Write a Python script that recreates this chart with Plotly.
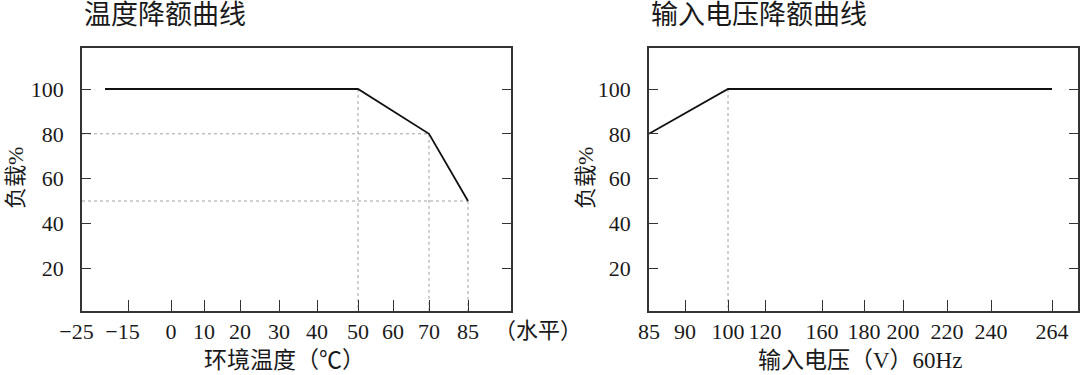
import numpy as np
import plotly.graph_objects as go

# ---------------- data ----------------
temp_c = [-20, 50, 70, 85]
temp_load = [100, 100, 80, 50]
temp_guides = [50, 70, 85]          # breakpoints with dotted guides

volt_v = [85, 100, 264]
volt_load = [80, 100, 100]
volt_guides = [100]

temp_ticks = [-25, -15, 0, 10, 20, 30, 40, 50, 60, 70, 85]
temp_tick_text = ["−25\u2002", "−15\u2002", "0", "10", "20", "30", "40", "50", "60", "70", "85"]
volt_ticks = [85, 90, 100, 120, 160, 180, 200, 220, 240, 264]
volt_tick_text = [str(v) for v in volt_ticks]
load_ticks = [20, 40, 60, 80, 100]

left_title = "温度降额曲线"
right_title = "输入电压降额曲线"
left_xtitle = "环境温度（℃）"
right_xtitle = "输入电压（V）60Hz"
ytitle = "负载%"
extra_label = "（水平）"

# ---------------- axis layout (non-linear printed scales) ----------------
temp_slot = [82, 128, 171, 204, 240, 279, 317, 358, 393, 429, 468]
temp_range = [82, 511]
volt_slot = [649, 685, 728, 765, 822, 864, 903, 947, 991, 1052]
volt_range = [649, 1078]
y_range = [0.9, 118.3]

W, H = 1080, 375
FONT = "Liberation Serif, 'Noto Sans CJK SC', serif"
TXT = "#1a1a1a"


def tmap(v):
    return np.interp(v, temp_ticks, temp_slot)


def vmap(v):
    return np.interp(v, volt_ticks, volt_slot)


fig = go.Figure()
guide = dict(color="#a0a0a0", width=1, dash="dot")

# left guides
for g in temp_guides:
    yv = float(np.interp(g, temp_c, temp_load))
    fig.add_trace(go.Scatter(x=[tmap(g), tmap(g)], y=[yv, y_range[0]], mode="lines",
                             line=guide, xaxis="x", yaxis="y", showlegend=False, hoverinfo="skip"))
    if yv < max(temp_load):
        fig.add_trace(go.Scatter(x=[temp_range[0], tmap(g)], y=[yv, yv], mode="lines",
                                 line=guide, xaxis="x", yaxis="y", showlegend=False, hoverinfo="skip"))
# right guides
for g in volt_guides:
    yv = float(np.interp(g, volt_v, volt_load))
    fig.add_trace(go.Scatter(x=[vmap(g), vmap(g)], y=[yv, y_range[0]], mode="lines",
                             line=guide, xaxis="x2", yaxis="y2", showlegend=False, hoverinfo="skip"))

# curves
fig.add_trace(go.Scatter(x=tmap(temp_c), y=temp_load, mode="lines",
                         line=dict(color="#111", width=1.8), xaxis="x", yaxis="y",
                         showlegend=False))
fig.add_trace(go.Scatter(x=vmap(volt_v), y=volt_load, mode="lines",
                         line=dict(color="#111", width=1.8), xaxis="x2", yaxis="y2",
                         showlegend=False))

ydom = [(H - 311) / H, (H - 48) / H]
common_x = dict(showline=True, linecolor="#333", linewidth=1.5, mirror=True,
                ticks="inside", ticklen=11, tickwidth=1.3, tickcolor="#333",
                showgrid=False, zeroline=False, fixedrange=True, automargin=False,
                tickangle=0,
                tickfont=dict(family=FONT, size=22, color=TXT), ticklabelstandoff=0)
common_y = dict(showline=True, linecolor="#333", linewidth=1.5, mirror="ticks",
                ticks="inside", ticklen=9, tickwidth=1.3, tickcolor="#333",
                showgrid=False, zeroline=False, fixedrange=True, range=y_range,
                tickvals=load_ticks, domain=ydom, automargin=False,
                tickfont=dict(family=FONT, size=22, color=TXT), ticklabelstandoff=12)

fig.update_layout(
    width=W, height=H, margin=dict(l=0, r=0, t=0, b=0, pad=0, autoexpand=False),
    paper_bgcolor="white", plot_bgcolor="white", showlegend=False,
    xaxis=dict(common_x, domain=[temp_range[0] / W, temp_range[1] / W], range=temp_range,
               tickvals=temp_slot, ticktext=temp_tick_text, anchor="y"),
    yaxis=dict(common_y, anchor="x"),
    xaxis2=dict(common_x, domain=[volt_range[0] / W, volt_range[1] / W], range=volt_range,
                tickvals=volt_slot, ticktext=volt_tick_text, anchor="y2"),
    yaxis2=dict(common_y, anchor="x2"),
)

def ann(text, x, y, size, xanchor="center", angle=0):
    fig.add_annotation(text=text, x=x, y=y, xref="paper", yref="paper", showarrow=False,
                       xanchor=xanchor, yanchor="middle", textangle=angle,
                       font=dict(family=FONT, size=size, color=TXT))

ann(left_title, 82 / W, (H - 15) / H, 27, xanchor="left")
ann(right_title, 649 / W, (H - 15) / H, 27, xanchor="left")
ann(left_xtitle, 284 / W, (H - 360) / H, 23)
ann(right_xtitle, 860 / W, (H - 360) / H, 23)
ann(ytitle, 15 / W, (H - 178) / H, 22, angle=-90)
ann(ytitle, 585 / W, (H - 178) / H, 22, angle=-90)
ann(extra_label, 538 / W, (H - 330) / H, 22)

fig.write_html("out.html", config={"responsive": False, "displayModeBar": False},
               post_script="document.body.style.margin='0';document.body.style.overflow='hidden';")
